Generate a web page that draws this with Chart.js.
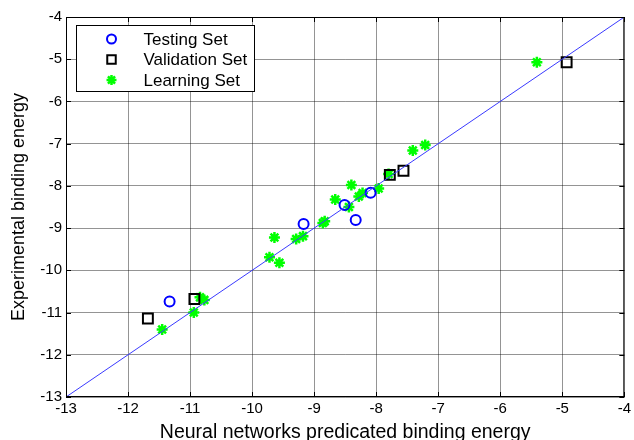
<!DOCTYPE html>
<html>
<head>
<meta charset="utf-8">
<script src="https://cdn.jsdelivr.net/npm/chart.js@4"></script>
<style>
  html, body { margin: 0; padding: 0; background: #fff; }
  canvas { display: block; }
</style>
</head>
<body>
<canvas id="fitChart" width="634" height="440"></canvas>
<script>
const testX = [-8.09, -8.51, -8.33, -9.17, -11.33];
const testY = [-8.16, -8.45, -8.81, -8.90, -10.74];

const validX = [-4.93, -7.56, -7.78, -10.93, -11.68];
const validY = [-5.07, -7.64, -7.74, -10.68, -11.14];

const learnX = [-5.41, -7.21, -7.41, -7.80, -7.96, -8.40, -8.22, -8.28, -8.66, -8.44, -8.86, -8.83, -9.18, -9.29, -9.64, -9.72, -9.56, -10.84, -10.77, -10.94, -11.45];
const learnY = [-5.07, -7.03, -7.16, -7.72, -8.06, -7.98, -8.17, -8.25, -8.32, -8.50, -8.88, -8.84, -9.19, -9.26, -9.22, -9.69, -9.82, -10.64, -10.70, -11.00, -11.40];

const fitLineX = [-13, -4];
const fitLineY = [-13, -4];

const AXIS_MIN = -13;
const AXIS_MAX = -4;
const FONT = "Arial, 'Liberation Sans', sans-serif";

function toPoints(xs, ys) {
  return xs.map((x, i) => ({ x, y: ys[i] }));
}

const legendItems = [
  { label: "Testing Set", style: "circle", color: "#0000ff", fill: "rgba(0,0,0,0)", radius: 4.5, width: 2 },
  { label: "Validation Set", style: "rect", color: "#000000", fill: "rgba(0,0,0,0)", radius: 6, width: 2 },
  { label: "Learning Set", style: "star", color: "#00ff00", fill: "#00ff00", radius: 5, width: 2.5 }
];

// matlab style box + inner ticks + legend inside the axes
const matlabFrame = {
  id: "matlabFrame",
  afterDraw(chart) {
    const { ctx, chartArea: a, scales } = chart;
    ctx.save();
    ctx.strokeStyle = "#000";
    ctx.lineWidth = 1;
    ctx.setLineDash([]);
    ctx.strokeRect(a.left + 0.5, a.top + 0.5, a.right - a.left - 1, a.bottom - a.top - 1);

    ctx.beginPath();
    for (let v = AXIS_MIN; v <= AXIS_MAX; v++) {
      const px = Math.round(scales.x.getPixelForValue(v)) + 0.5;
      ctx.moveTo(px, a.bottom);
      ctx.lineTo(px, a.bottom - 5);
      ctx.moveTo(px, a.top);
      ctx.lineTo(px, a.top + 5);
      const py = Math.round(scales.y.getPixelForValue(v)) + 0.5;
      ctx.moveTo(a.left, py);
      ctx.lineTo(a.left + 5, py);
      ctx.moveTo(a.right, py);
      ctx.lineTo(a.right - 5, py);
    }
    ctx.stroke();

    // legend box
    const bx = a.left + 10.5, by = a.top + 8.5, bw = 178, bh = 66;
    ctx.fillStyle = "#fff";
    ctx.fillRect(bx, by, bw, bh);
    ctx.strokeRect(bx, by, bw, bh);
    ctx.font = "17px " + FONT;
    ctx.textBaseline = "middle";
    ctx.textAlign = "left";
    legendItems.forEach((item, i) => {
      const cy = by + 13.5 + i * 20.5;
      ctx.strokeStyle = item.color;
      ctx.fillStyle = item.fill;
      ctx.lineWidth = item.width;
      Chart.helpers.drawPoint(ctx, { pointStyle: item.style, radius: item.radius, borderWidth: item.width, rotation: 0 }, bx + 35, cy);
      ctx.fillStyle = "#000";
      ctx.fillText(item.label, bx + 67, cy + 1);
    });
    ctx.restore();
  }
};

const axisCommon = {
  type: "linear",
  min: AXIS_MIN,
  max: AXIS_MAX,
  grid: { color: "rgba(0,0,0,0.42)", drawTicks: false, lineWidth: 1 },
  border: { display: false },
  ticks: { stepSize: 1, color: "#000", font: { family: FONT, size: 15 } }
};

new Chart(document.getElementById("fitChart"), {
  type: "scatter",
  data: {
    datasets: [
      {
        type: "line",
        label: "fit",
        data: toPoints(fitLineX, fitLineY),
        borderColor: "#3a3aff",
        borderWidth: 1,
        pointRadius: 0,
        fill: false,
        order: 0
      },
      {
        label: "Testing Set",
        data: toPoints(testX, testY),
        pointStyle: "circle",
        pointRadius: 5,
        borderWidth: 2,
        borderColor: "#0000ff",
        backgroundColor: "rgba(0,0,0,0)",
        order: 1
      },
      {
        label: "Validation Set",
        data: toPoints(validX, validY),
        pointStyle: "rect",
        pointRadius: 7,
        borderWidth: 2,
        borderColor: "#000000",
        backgroundColor: "rgba(0,0,0,0)",
        order: 2
      },
      {
        label: "Learning Set",
        data: toPoints(learnX, learnY),
        pointStyle: "star",
        pointRadius: 5.5,
        borderWidth: 2.5,
        borderColor: "#00ff00",
        backgroundColor: "#00ff00",
        order: 3
      }
    ]
  },
  options: {
    responsive: false,
    animation: false,
    locale: "en-US",
    layout: { padding: { left: 0, top: 17, right: 5, bottom: 0 } },
    plugins: { legend: { display: false }, tooltip: { enabled: false } },
    scales: {
      x: {
        ...axisCommon,
        ticks: { ...axisCommon.ticks, padding: 3, maxRotation: 0 },
        title: {
          display: true,
          text: "Neural networks predicated binding energy",
          color: "#000",
          font: { family: FONT, size: 19.5, lineHeight: 0.8 },
          padding: { top: 0, bottom: 0 }
        },
        afterFit(scale) { scale.height = 43; }
      },
      y: {
        ...axisCommon,
        ticks: { ...axisCommon.ticks, padding: 4 },
        title: {
          display: true,
          text: "Experimental binding energy",
          color: "#000",
          font: { family: FONT, size: 18, lineHeight: 1 },
          padding: { top: 10, bottom: 0 }
        },
        afterFit(scale) { scale.width = 66; }
      }
    }
  },
  plugins: [matlabFrame]
});
</script>
</body>
</html>
